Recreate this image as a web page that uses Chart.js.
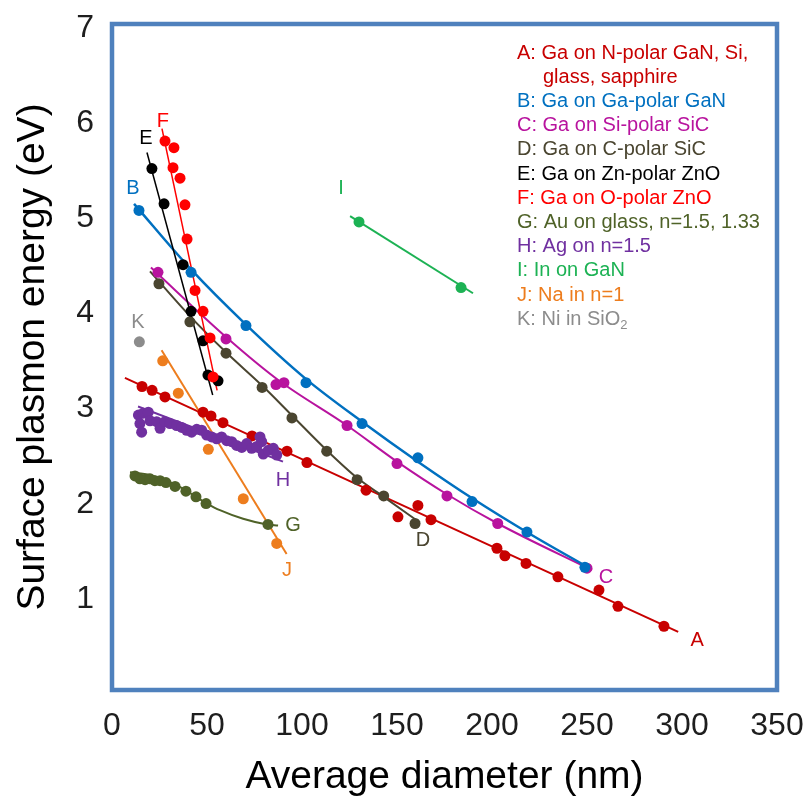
<!DOCTYPE html>
<html>
<head>
<meta charset="utf-8">
<title>Surface plasmon energy vs average diameter</title>
<script src="https://cdn.jsdelivr.net/npm/chart.js@4.4.1/dist/chart.umd.min.js"></script>
<style>
  html, body { margin: 0; padding: 0; background: #fff; }
  #wrap { width: 807px; height: 801px; }
</style>
</head>
<body>
<div id="wrap"><canvas id="chart" width="807" height="801"></canvas></div>
<script>
// tick labels (0 on the y axis is left blank, as in the figure)
const xTickLabels = ['0', '50', '100', '150', '200', '250', '300', '350']
const yTickLabels = ['', '1', '2', '3', '4', '5', '6', '7']

// A: Ga on N-polar GaN, Si, glass, sapphire
const aX = [15.8, 21.1, 27.9, 47.9, 52.1, 58.4, 73.7, 92.1, 102.6, 133.7, 150.5, 161, 167.9, 202.6, 206.8, 217.9, 234.7, 256.3, 266.3, 290.5]
const aY = [3.19, 3.15, 3.08, 2.92, 2.88, 2.81, 2.67, 2.51, 2.39, 2.10, 1.82, 1.94, 1.79, 1.49, 1.41, 1.33, 1.19, 1.05, 0.88, 0.67]
const aFitX = [6.8, 298]
const aFitY = [3.28, 0.61]

// B: Ga on Ga-polar GaN
const bX = [14.2, 41.6, 70.5, 102.1, 131.6, 161, 189.5, 218.4, 248.9]
const bY = [5.04, 4.39, 3.83, 3.23, 2.80, 2.44, 1.98, 1.66, 1.29]
const bFitX = [11.6, 41.6, 70.5, 102, 131.6, 161, 190, 220, 250.5]
const bFitY = [5.11, 4.42, 3.84, 3.27, 2.82, 2.40, 2.01, 1.64, 1.29]

// C: Ga on Si-polar SiC
const cX = [24.2, 60, 86.3, 90.5, 123.7, 150, 176.3, 203, 250]
const cY = [4.39, 3.69, 3.21, 3.23, 2.78, 2.38, 2.04, 1.75, 1.28]
const cFitX = [20.5, 60, 88, 123.7, 150, 176, 203, 252.6]
const cFitY = [4.44, 3.71, 3.25, 2.78, 2.40, 2.06, 1.75, 1.26]

// D: Ga on C-polar SiC
const dX = [24.7, 41, 60, 79, 94.7, 113, 129, 143, 159.5]
const dY = [4.27, 3.87, 3.54, 3.18, 2.86, 2.51, 2.21, 2.04, 1.75]
const dFitX = [20, 41, 60, 79, 95, 113, 129, 143, 162]
const dFitY = [4.40, 3.93, 3.55, 3.20, 2.88, 2.52, 2.23, 2.03, 1.76]

// E: Ga on Zn-polar ZnO
const eX = [21, 27.4, 37.4, 41.6, 47.9, 50.5, 55.8]
const eY = [5.48, 5.11, 4.47, 3.98, 3.67, 3.31, 3.25]
const eFitX = [18.4, 53]
const eFitY = [5.65, 3.10]

// F: Ga on O-polar ZnO
const fX = [27.9, 32.6, 32.1, 35.8, 38.4, 39.5, 43.7, 47.9, 51.6, 53.2]
const fY = [5.77, 5.70, 5.49, 5.38, 5.10, 4.74, 4.20, 3.98, 3.70, 3.29]
const fFitX = [26.3, 55.3]
const fFitY = [5.90, 3.15]

// G: Au on glass, n=1.5, 1.33
const gX = [12.1, 14.7, 17.4, 20, 22.6, 25.3, 28.4, 33.2, 38.9, 44.2, 49.5, 82.1]
const gY = [2.25, 2.22, 2.21, 2.22, 2.20, 2.20, 2.18, 2.14, 2.09, 2.03, 1.96, 1.74]
const gFitX = [9.5, 20, 34.2, 50, 56.8, 69, 81.6, 87.4]
const gFitY = [2.29, 2.26, 2.15, 1.96, 1.89, 1.80, 1.74, 1.73]

// H: Ag on n=1.5
const hX = [13.9, 16.5, 19.1, 14.7, 15.6, 20, 23.5, 25.3, 27.9, 30.5, 34, 36.7, 39.3, 41.9, 44.6, 47.2, 49.8, 52.5, 55.1, 57.7, 60.4, 63, 65.6, 68.3, 70.9, 73.5, 76.2, 77.9, 78.8, 79.6, 82.3, 84.9, 86.7]
const hY = [2.89, 2.91, 2.92, 2.80, 2.71, 2.83, 2.82, 2.75, 2.82, 2.80, 2.78, 2.76, 2.73, 2.71, 2.74, 2.73, 2.68, 2.66, 2.64, 2.66, 2.62, 2.61, 2.57, 2.55, 2.59, 2.54, 2.56, 2.66, 2.61, 2.48, 2.52, 2.54, 2.47]
const hFitX = [13.7, 90]
const hFitY = [2.98, 2.40]

// I: In on GaN
const iX = [130, 183.7]
const iY = [4.92, 4.23]
const iFitX = [125.3, 190]
const iFitY = [4.98, 4.17]

// J: Na in n=1
const jX = [26.7, 34.9, 50.7, 69.1, 86.7]
const jY = [3.46, 3.12, 2.53, 2.01, 1.54]
const jFitX = [26.1, 91.9]
const jFitY = [3.57, 1.43]

// K: Ni in SiO2
const kX = [14.4]
const kY = [3.66]

const FONT = '"Liberation Sans", Arial, sans-serif'

const series = [
    {key: 'H', color: '#7030a0', x: hX, y: hY, fitX: hFitX, fitY: hFitY, curved: false, lineWidth: 2},
    {key: 'F', color: '#ff0000', x: fX, y: fY, fitX: fFitX, fitY: fFitY, curved: false, lineWidth: 1.5},
    {key: 'E', color: '#000000', x: eX, y: eY, fitX: eFitX, fitY: eFitY, curved: false, lineWidth: 1.5},
    {key: 'B', color: '#0070c0', x: bX, y: bY, fitX: bFitX, fitY: bFitY, curved: true, lineWidth: 2.5},
    {key: 'C', color: '#b8139e', x: cX, y: cY, fitX: cFitX, fitY: cFitY, curved: true, lineWidth: 2},
    {key: 'D', color: '#4a4530', x: dX, y: dY, fitX: dFitX, fitY: dFitY, curved: true, lineWidth: 2},
    {key: 'J', color: '#ed7d1e', x: jX, y: jY, fitX: jFitX, fitY: jFitY, curved: false, lineWidth: 2},
    {key: 'A', color: '#c80000', x: aX, y: aY, fitX: aFitX, fitY: aFitY, curved: false, lineWidth: 2},
    {key: 'G', color: '#4f6228', x: gX, y: gY, fitX: gFitX, fitY: gFitY, curved: true, lineWidth: 2},
    {key: 'I', color: '#1db254', x: iX, y: iY, fitX: iFitX, fitY: iFitY, curved: false, lineWidth: 2},
    {key: 'K', color: '#8c8c8c', x: kX, y: kY, fitX: [], fitY: [], curved: false, lineWidth: 0}
]
const colorOf = key => series.find(s => s.key === key).color

// letter tags next to each curve, anchored in data units
const tags = [
    {text: 'A', x: 308, y: 0.52},
    {text: 'B', x: 11, y: 5.27},
    {text: 'C', x: 260, y: 1.18},
    {text: 'D', x: 163.7, y: 1.57},
    {text: 'E', x: 17.9, y: 5.80},
    {text: 'F', x: 26.8, y: 5.98},
    {text: 'G', x: 95.3, y: 1.73},
    {text: 'H', x: 90, y: 2.20},
    {text: 'I', x: 120.5, y: 5.27},
    {text: 'J', x: 92.1, y: 1.26},
    {text: 'K', x: 13.7, y: 3.86}
]

const legendLines = [
    {key: 'A', text: 'A: Ga on N-polar GaN, Si,'},
    {key: 'A', text: 'glass, sapphire', indent: 26},
    {key: 'B', text: 'B: Ga on Ga-polar GaN'},
    {key: 'C', text: 'C: Ga on Si-polar SiC'},
    {key: 'D', text: 'D: Ga on C-polar SiC'},
    {key: 'E', text: 'E: Ga on Zn-polar ZnO'},
    {key: 'F', text: 'F: Ga on O-polar ZnO'},
    {key: 'G', text: 'G: Au on glass, n=1.5, 1.33'},
    {key: 'H', text: 'H: Ag on n=1.5'},
    {key: 'I', text: 'I: In on GaN'},
    {key: 'J', text: 'J: Na in n=1'},
    {key: 'K', text: 'K: Ni in SiO', sub: '2'}
]

const toPoints = (xs, ys) => xs.map((x, i) => ({x, y: ys[i]}))

const datasets = []
series.forEach(s => {
    if (s.fitX.length) {
        datasets.push({
            data: toPoints(s.fitX, s.fitY),
            showLine: true,
            borderColor: s.color,
            borderWidth: s.lineWidth,
            pointRadius: 0,
            tension: s.curved ? 0.4 : 0,
            cubicInterpolationMode: s.curved ? 'monotone' : 'default',
            order: 2
        })
    }
    datasets.push({
        data: toPoints(s.x, s.y),
        showLine: false,
        backgroundColor: s.color,
        borderWidth: 0,
        pointRadius: 5.5,
        pointBorderWidth: 0,
        order: 1
    })
})

// blue frame round the plot area
const framePlugin = {
    id: 'frame',
    beforeDatasetsDraw(chart) {
        const {ctx, chartArea: a} = chart
        ctx.save()
        ctx.strokeStyle = '#4f81bd'
        ctx.lineWidth = 4.5
        ctx.strokeRect(a.left, a.top, a.right - a.left, a.bottom - a.top)
        ctx.restore()
    }
}

const textPlugin = {
    id: 'texts',
    afterDraw(chart) {
        const {ctx, chartArea: a, scales} = chart
        ctx.save()
        ctx.font = '20px ' + FONT
        ctx.textBaseline = 'middle'
        ctx.textAlign = 'center'
        tags.forEach(t => {
            ctx.fillStyle = colorOf(t.text)
            ctx.fillText(t.text, scales.x.getPixelForValue(t.x), scales.y.getPixelForValue(t.y))
        })
        ctx.textAlign = 'left'
        legendLines.forEach((l, i) => {
            const x = a.left + 405 + (l.indent || 0)
            const y = a.top + 29 + i * 24.2
            ctx.font = '20px ' + FONT
            ctx.fillStyle = colorOf(l.key)
            ctx.fillText(l.text, x, y)
            if (l.sub) {
                const w = ctx.measureText(l.text).width
                ctx.font = '13px ' + FONT
                ctx.fillText(l.sub, x + w, y + 6)
            }
        })
        ctx.restore()
    }
}

const config = {
    type: 'scatter',
    data: {datasets},
    plugins: [framePlugin, textPlugin],
    options: {
        responsive: false,
        animation: false,
        events: [],
        layout: {padding: {top: 24, right: 30, left: 0, bottom: 0}},
        plugins: {legend: {display: false}, tooltip: {enabled: false}},
        scales: {
            x: {
                type: 'linear',
                min: 0,
                max: 350,
                grid: {display: false, drawTicks: false},
                border: {display: false},
                afterFit(scale) {
                    scale.height = 111
                    scale.paddingLeft = 0
                    scale.paddingRight = 0
                },
                ticks: {
                    stepSize: 50,
                    autoSkip: false,
                    maxRotation: 0,
                    padding: 17,
                    color: '#1e1e1e',
                    font: {family: FONT, size: 32},
                    callback: (value, index) => xTickLabels[index]
                },
                title: {
                    display: true,
                    text: 'Average diameter (nm)',
                    color: '#000',
                    font: {family: FONT, size: 39},
                    padding: {top: 0, bottom: 0}
                }
            },
            y: {
                type: 'linear',
                min: 0,
                max: 7,
                grid: {display: false, drawTicks: false},
                border: {display: false},
                afterFit(scale) {
                    scale.width = 112
                    scale.paddingTop = 0
                    scale.paddingBottom = 0
                },
                ticks: {
                    stepSize: 1,
                    padding: 18,
                    labelOffset: 4,
                    color: '#1e1e1e',
                    font: {family: FONT, size: 32},
                    callback: (value, index) => yTickLabels[index]
                },
                title: {
                    display: true,
                    text: 'Surface plasmon energy (eV)',
                    color: '#000',
                    font: {family: FONT, size: 39},
                    padding: {top: 10, bottom: 0}
                }
            }
        }
    }
}

new Chart(document.getElementById('chart'), config)
</script>
</body>
</html>
